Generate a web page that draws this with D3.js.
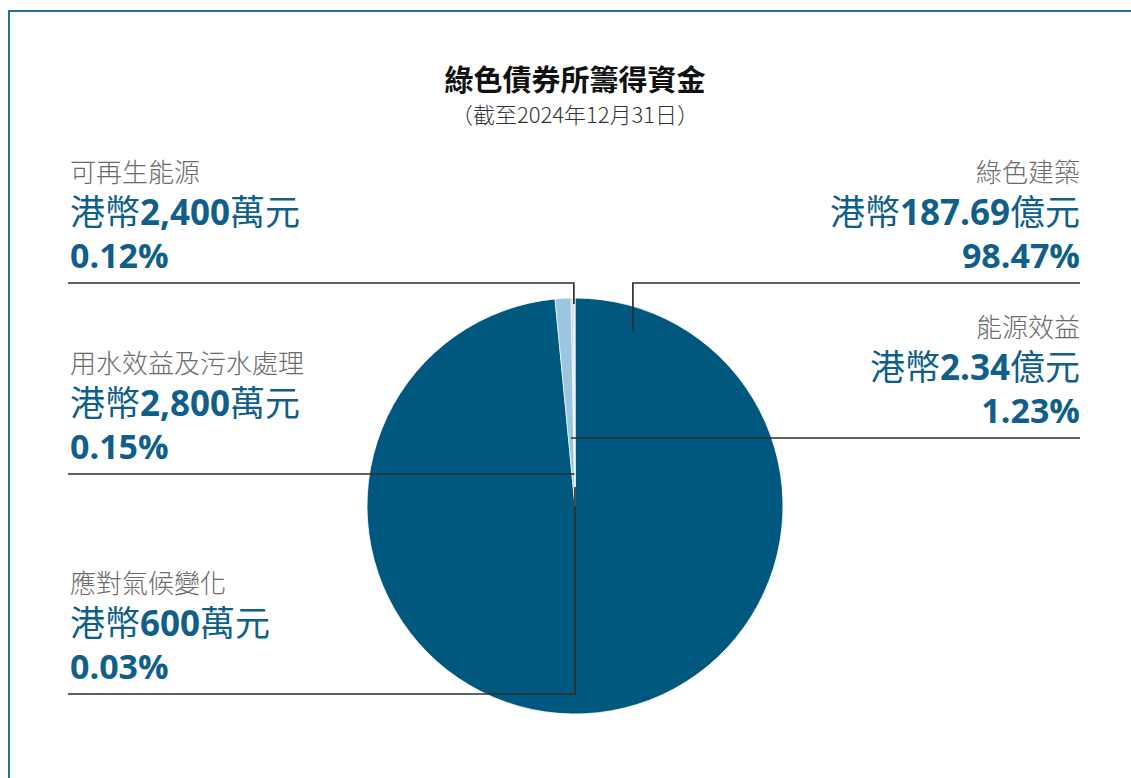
<!DOCTYPE html>
<html lang="zh-Hant">
<head>
<meta charset="utf-8">
<script src="https://cdn.jsdelivr.net/npm/d3@7"></script>
<style>
  html, body { margin: 0; padding: 0; background: #fff; }
  svg { display: block; }
</style>
</head>
<body>
<svg id="chart" width="1131" height="778"></svg>
<script>
// Green bond proceeds by category (as at 31 Dec 2024)
const categories = ["綠色建築", "能源效益", "用水效益及污水處理", "可再生能源", "應對氣候變化"];
const amountNumbers = ["187.69", "2.34", "2,800", "2,400", "600"];
const amountUnits = ["億元", "億元", "萬元", "萬元", "萬元"];
const shares = [98.47, 1.23, 0.15, 0.12, 0.03];

const sliceColors = ["#00587f", "#9cc6dd", "#aed2e4", "#cbb9de", "#8fa3b3"];

// label placement: side of the chart and the y of the leader line under each label
const labelSide = ["right", "right", "left", "left", "left"];
const labelLineY = [283, 438, 474, 283, 694];

const W = 1131, H = 778;
const cx = 575, cy = 506, R = 208;
const leftX = 70, rightX = 1080;

const svg = d3.select("#chart");
const cjk = "'Noto Sans CJK TC', 'Noto Sans', sans-serif";
const latin = "'Open Sans', 'Noto Sans CJK TC', sans-serif";
const blue = "#0f5f8a";

// frame
svg.append("path")
  .attr("d", `M9,${H + 5} L9,11 L${W + 5},11`)
  .attr("fill", "none")
  .attr("stroke", "#1f6fa3")
  .attr("stroke-width", 2);

// titles
svg.append("text")
  .attr("x", cx).attr("y", 91)
  .attr("text-anchor", "middle")
  .attr("font-family", cjk)
  .attr("font-weight", 700)
  .attr("font-size", 29)
  .attr("fill", "#111")
  .text("綠色債券所籌得資金");

svg.append("text")
  .attr("x", cx).attr("y", 123)
  .attr("text-anchor", "middle")
  .attr("font-family", cjk)
  .attr("font-weight", 300)
  .attr("font-size", 22)
  .attr("fill", "#333")
  .text("（截至2024年12月31日）");

// pie
const pie = d3.pie().sort(null).value(d => d)(shares);
const arc = d3.arc().innerRadius(0).outerRadius(R);

const g = svg.append("g").attr("transform", `translate(${cx},${cy})`);
g.selectAll("path.slice")
  .data(pie)
  .join("path")
  .attr("class", "slice")
  .attr("d", arc)
  .attr("fill", (d, i) => sliceColors[i])
  .attr("stroke", "#fff")
  .attr("stroke-width", (d, i) => i === 0 ? 0.8 : 0.6);

const polar = (a, r) => [cx + r * Math.sin(a), cy - r * Math.cos(a)];
const mid = d => (d.startAngle + d.endAngle) / 2;

// leader lines
const leaders = pie.map((d, i) => {
  const ly = labelLineY[i];
  const endX = labelSide[i] === "right" ? rightX : leftX - 2;
  if (i === 0) {
    // big slice: anchor inside the upper right of the pie
    const [ax, ay] = polar(0.32, R * 0.885);
    return [[ax, ay], [ax, ly], [endX, ly]];
  }
  if (ly < cy - R + 20) {
    // labels above the pie: rise vertically from the slice rim
    const [ax, ay] = polar(mid(d), R - 6);
    return [[ax, ay], [ax, ly], [endX, ly]];
  }
  if (ly > cy) {
    // labels below the centre: drop through the centre from the slice
    const [ax, ay] = polar(mid(d), 19);
    return [[ax, ay], [ax, ly], [endX, ly]];
  }
  const r = (cy - ly) / Math.cos(mid(d));
  const [ax] = polar(mid(d), r);
  return [[ax, ly], [endX, ly]];
});

svg.append("g").selectAll("path")
  .data(leaders)
  .join("path")
  .attr("d", d3.line())
  .attr("fill", "none")
  .attr("stroke", "#2e2e2e")
  .attr("stroke-width", 1.7);

// labels
const fmtPct = d3.format(".2f");
pie.forEach((d, i) => {
  const ly = labelLineY[i];
  const right = labelSide[i] === "right";
  const x = right ? rightX : leftX;
  const anchor = right ? "end" : "start";
  const lg = svg.append("g").attr("text-anchor", anchor);

  lg.append("text")
    .attr("x", x).attr("y", ly - 101)
    .attr("font-family", cjk)
    .attr("font-weight", 300)
    .attr("font-size", 26)
    .attr("fill", "#6b6b6b")
    .text(categories[i]);

  const amt = lg.append("text")
    .attr("x", x).attr("y", ly - 58)
    .attr("font-size", 35)
    .attr("fill", blue);
  amt.append("tspan").attr("font-family", cjk).text("港幣");
  amt.append("tspan").attr("font-family", latin).attr("font-weight", 700).text(amountNumbers[i]);
  amt.append("tspan").attr("font-family", cjk).text(amountUnits[i]);

  lg.append("text")
    .attr("x", x).attr("y", ly - 15)
    .attr("font-family", latin)
    .attr("font-weight", 700)
    .attr("font-size", 34)
    .attr("fill", blue)
    .text(fmtPct(shares[i]) + "%");
});
</script>
</body>
</html>
